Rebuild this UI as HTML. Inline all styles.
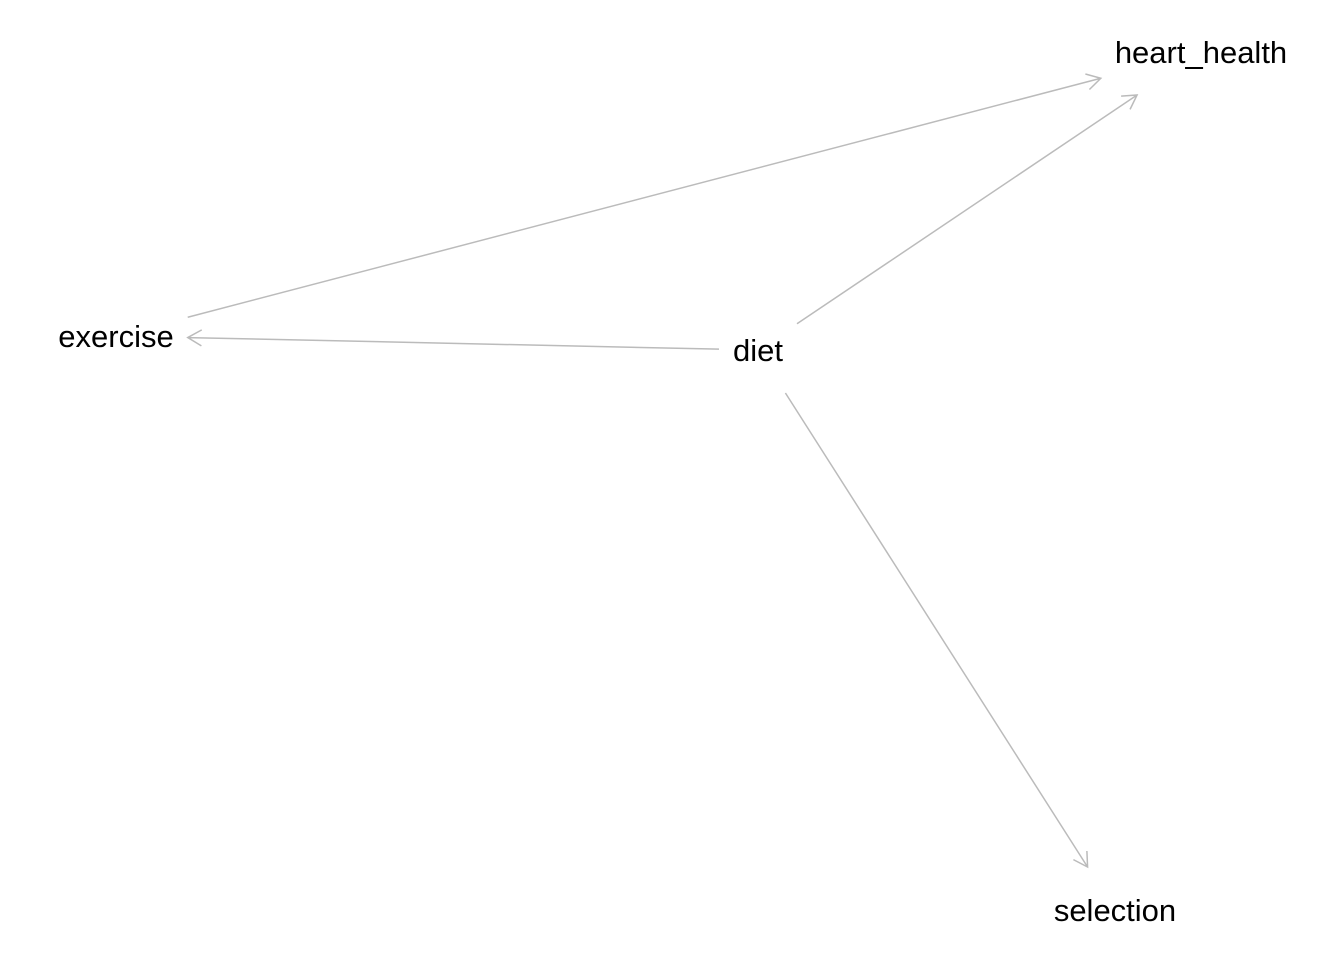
<!DOCTYPE html>
<html><head><meta charset="utf-8"><style>
html,body{margin:0;padding:0;background:#fff;}
svg{display:block;}
text{font-family:"Liberation Sans",Arial,sans-serif;font-size:31px;fill:#000;}
</style></head><body>
<svg id="chart" width="1344" height="960" viewBox="0 0 1344 960">
<rect width="1344" height="960" fill="#fff"/>
<g id="edges"></g>
<g id="nodes"></g>
</svg>
<script>
const nodeNames = ["heart_health","exercise","diet","selection"];
const nodeX = [1201, 116, 758, 1115];
const nodeY = [52, 336, 350, 910];
const edgeFrom = ["exercise","diet","diet","diet"];
const edgeTo = ["heart_health","heart_health","exercise","selection"];

const NS = "http://www.w3.org/2000/svg";
const gN = document.getElementById("nodes");
const gE = document.getElementById("edges");
const halfW = {};
nodeNames.forEach((n,i)=>{
  const t = document.createElementNS(NS,"text");
  t.setAttribute("x", nodeX[i]);
  t.setAttribute("y", nodeY[i] + 11);
  t.setAttribute("text-anchor","middle");
  t.textContent = n;
  
  
  gN.appendChild(t);
  halfW[n] = t.getComputedTextLength()/2 + 14;
});
const HH = 43;
function clip(n, dx, dy){
  const hw = halfW[n];
  const tx = dx!==0 ? hw/Math.abs(dx) : Infinity;
  const ty = dy!==0 ? HH/Math.abs(dy) : Infinity;
  return Math.min(tx, ty);
}
edgeFrom.forEach((f,k)=>{
  const to = edgeTo[k];
  const i = nodeNames.indexOf(f), j = nodeNames.indexOf(to);
  const x0=nodeX[i], y0=nodeY[i], x1=nodeX[j], y1=nodeY[j];
  const dx=x1-x0, dy=y1-y0;
  const t0 = clip(f, dx, dy), t1 = clip(to, -dx, -dy);
  const sx=x0+dx*t0, sy=y0+dy*t0, ex=x1-dx*t1, ey=y1-dy*t1;
  const g = document.createElementNS(NS,"g");
  
  
  const L = Math.hypot(dx,dy), ux=dx/L, uy=dy/L;
  const a=Math.PI/6, h=16;
  const ax1=ex-h*(ux*Math.cos(a)-uy*Math.sin(a)), ay1=ey-h*(uy*Math.cos(a)+ux*Math.sin(a));
  const ax2=ex-h*(ux*Math.cos(a)+uy*Math.sin(a)), ay2=ey-h*(uy*Math.cos(a)-ux*Math.sin(a));
  const p = document.createElementNS(NS,"path");
  p.setAttribute("d",`M${sx},${sy}L${ex},${ey}M${ax1},${ay1}L${ex},${ey}L${ax2},${ay2}`);
  p.setAttribute("stroke","#bbbbbb");
  p.setAttribute("stroke-width","1.5");
  p.setAttribute("fill","none");
  
  
  g.appendChild(p);
  gE.appendChild(g);
});
</script>
</body></html>
